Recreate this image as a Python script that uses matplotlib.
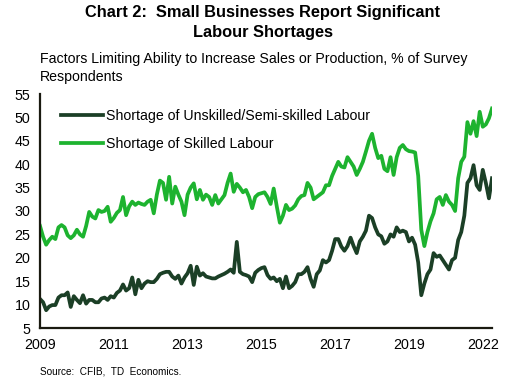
import numpy as np
import matplotlib
matplotlib.use("Agg")
import matplotlib.pyplot as plt

plt.rcParams['font.family'] = ['Liberation Sans', 'DejaVu Sans']

# Monthly survey readings (% of respondents)
skilled = [26.8, 24.5, 22.8, 23.8, 24.5, 24.0, 26.5, 27.0, 26.5, 24.8,
           24.2, 24.8, 26.0, 25.0, 24.5, 26.8, 29.8, 28.8, 28.4, 30.2,
           29.8, 30.0, 30.9, 27.7, 28.5, 29.6, 30.2, 33.0, 29.1, 31.0,
           32.0, 31.3, 31.8, 31.5, 31.3, 32.0, 32.4, 29.5, 33.5, 36.5,
           36.0, 32.4, 37.3, 31.6, 35.2, 33.5, 32.0, 29.1, 33.5, 35.0,
           35.9, 32.5, 34.5, 32.4, 33.5, 33.0, 31.3, 33.4, 31.6, 32.5,
           33.4, 36.0, 38.0, 34.1, 35.8, 35.0, 34.0, 34.5, 33.0, 30.6,
           33.0, 33.6, 33.8, 34.0, 33.0, 31.5, 34.8, 31.0, 27.5, 29.0,
           31.3, 30.2, 30.5, 31.2, 32.5, 33.2, 33.4, 36.0, 35.0, 32.5,
           33.0, 33.5, 34.0, 35.5, 35.5, 37.5, 39.0, 40.5, 39.5, 39.3,
           41.5, 40.5, 39.5, 37.7, 39.0, 40.5, 42.7, 45.0, 46.5, 43.5,
           41.3, 41.8, 39.0, 38.5, 41.5, 37.7, 41.5, 43.5, 44.1, 43.2,
           42.8, 42.7, 42.5, 37.5, 26.0, 22.5, 25.5, 27.8, 29.5, 32.5,
           33.0, 31.3, 33.4, 32.0, 31.3, 30.0, 37.0, 40.5, 41.6, 49.0,
           46.5, 49.2, 46.0, 51.2, 48.0, 48.5, 49.8, 51.9]

unskilled = [11.2, 10.5, 8.8, 9.6, 9.9, 9.9, 11.5, 12.0, 12.0, 12.6,
             9.5, 11.8, 11.0, 10.3, 12.0, 10.2, 11.0, 11.0, 10.5, 10.5,
             11.3, 11.5, 11.0, 11.8, 11.5, 12.5, 13.0, 14.3, 13.0, 13.5,
             15.8, 12.2, 15.3, 13.5, 14.5, 15.0, 14.8, 14.8, 15.5, 16.5,
             16.8, 17.0, 17.0, 16.0, 15.5, 16.2, 14.5, 15.8, 16.7, 18.3,
             14.2, 18.1, 16.2, 16.7, 16.0, 15.8, 15.6, 15.6, 16.0, 16.3,
             16.6, 17.0, 17.5, 16.8, 23.4, 17.0, 16.5, 16.3, 16.0, 14.8,
             16.8, 17.4, 17.8, 18.0, 16.3, 15.5, 15.8, 15.0, 15.5, 13.5,
             16.0, 13.5, 14.0, 14.8, 16.5, 16.5, 17.0, 18.0, 15.5, 13.8,
             16.5, 17.3, 19.5, 19.0, 19.5, 21.5, 24.0, 24.0, 22.4, 21.5,
             22.5, 24.3, 22.5, 21.0, 23.5, 24.5, 25.8, 29.0, 28.5, 26.5,
             25.0, 24.6, 23.0, 23.5, 25.0, 24.5, 26.5, 25.5, 25.8, 25.5,
             23.5, 24.3, 22.8, 19.0, 12.0, 14.5, 16.5, 17.5, 21.0, 20.2,
             20.5, 19.5, 18.5, 17.5, 19.5, 20.0, 23.8, 25.5, 29.0, 36.0,
             37.0, 39.8, 35.5, 34.5, 38.8, 36.0, 32.7, 37.0]

tick_pos = [0, 24, 48, 72, 96, 120, 144]
tick_labels = ['2009', '2011', '2013', '2015', '2017', '2019', '2022']
y_ticks = [5, 10, 15, 20, 25, 30, 35, 40, 45, 50, 55]

dark = '#1b3f26'
light = '#1db32f'

fig = plt.figure(figsize=(5.15, 3.84), dpi=100)
ax = fig.add_axes([40/515, 1-328/384, 452/515, (328-94)/384])

t = np.arange(len(skilled))
ax.plot(t, unskilled, color=dark, lw=2.7, label='Shortage of Unskilled/Semi-skilled Labour',
        solid_joinstyle='round')
ax.plot(t, skilled, color=light, lw=2.7, label='Shortage of Skilled Labour',
        solid_joinstyle='round')

ax.set_xlim(0, len(skilled) - 1)
ax.set_ylim(5, 55)
ax.set_yticks(y_ticks)
ax.set_xticks(tick_pos)
ax.set_xticklabels(tick_labels)
ax.tick_params(axis='both', length=0, labelsize=10.3, colors='black')
ax.tick_params(axis='x', pad=7)
ax.tick_params(axis='y', pad=7)
for s in ['top', 'right']:
    ax.spines[s].set_visible(False)
for s in ['left', 'bottom']:
    ax.spines[s].set_color('#1a1a10')
    ax.spines[s].set_linewidth(1.6)

leg = ax.legend(loc='upper left', bbox_to_anchor=(0.035, 0.962), frameon=False,
                fontsize=10.2, handlelength=2.9, handletextpad=0.25,
                labelspacing=1.05, borderaxespad=0)

fig.text(0.51, 1-5.5/384, 'Chart 2:  Small Businesses Report Significant\nLabour Shortages',
         ha='center', va='top', fontsize=11.8, fontweight='bold', linespacing=1.38)
fig.text(40/515, 1-52/384, 'Factors Limiting Ability to Increase Sales or Production, % of Survey\nRespondents',
         ha='left', va='top', fontsize=10.2, linespacing=1.38)
fig.text(40/515, 1-371/384, 'Source:  CFIB,  TD  Economics.', ha='left', va='center', fontsize=7.2)

fig.savefig('out.png', dpi=100)
